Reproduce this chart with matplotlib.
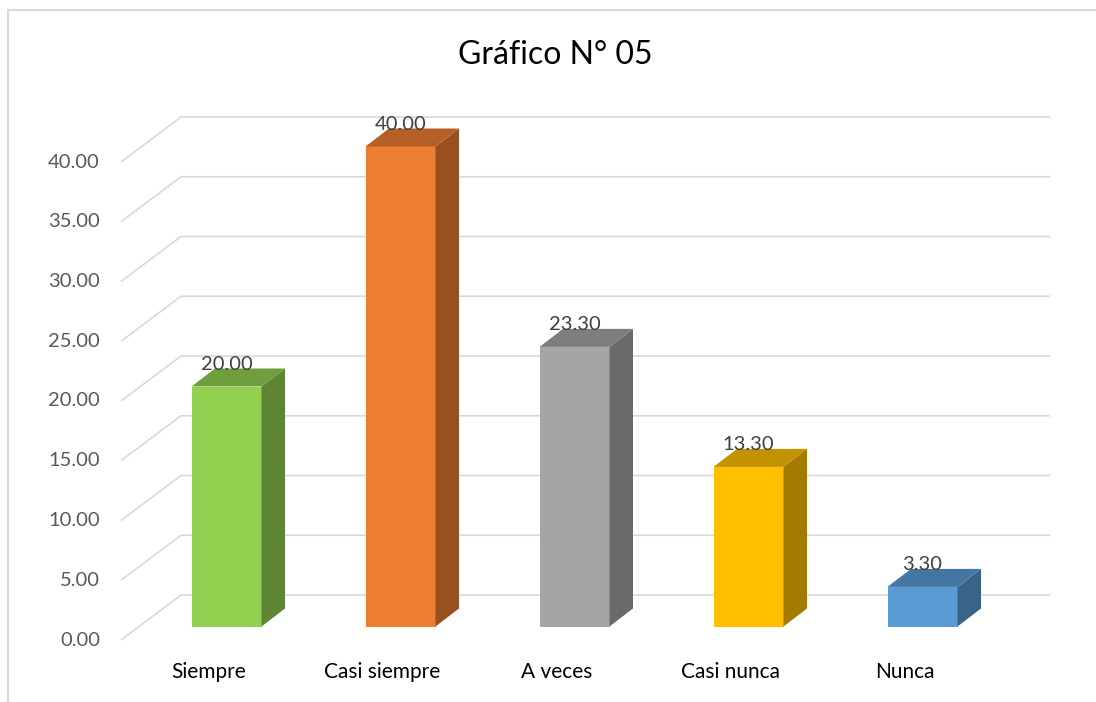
import matplotlib
matplotlib.use("Agg")
import matplotlib.pyplot as plt
from matplotlib.patches import Polygon
from matplotlib.lines import Line2D
from matplotlib.colors import to_rgb

# ---- data ----
categories = ["Siempre", "Casi siempre", "A veces", "Casi nunca", "Nunca"]
values = [20.00, 40.00, 23.30, 13.30, 3.30]
colors = ["#92D050", "#ED7D31", "#A5A5A5", "#FFC000", "#5B9BD5"]
yticks = [0, 5, 10, 15, 20, 25, 30, 35, 40]
title = "Gráfico N° 05"

W, H = 1096, 702
DPI = 100
plt.rcParams['font.family'] = ['Lato', 'DejaVu Sans']

fig = plt.figure(figsize=(W / DPI, H / DPI), dpi=DPI)
ax = fig.add_axes([0, 0, 1, 1])

# scale: category step and value scale in pixels
CAT_PX = 174.0
X0_PX = 226.5
VAL_PX = 12.0
Y0_PX = 626.5  # pixel row (from top) of value 0 at bar front
ax.set_xlim(-X0_PX / CAT_PX, (W - X0_PX) / CAT_PX)
ax.set_ylim(-(H - Y0_PX) / VAL_PX, Y0_PX / VAL_PX)
ax.axis('off')

def px_x(dpx):
    return dpx / CAT_PX

def px_y(dpx):
    return dpx / VAL_PX

# gridlines (3D wall look)
grid_col = "#D9D9D9"
tick_scale = 11.95 / 12.0
x_front = px_x(121 - X0_PX)
x_back = px_x(181 - X0_PX)
x_end = px_x(1050 - X0_PX)
for t in yticks:
    yf = t * tick_scale - px_y(13.5)
    yb = yf + px_y(45)
    ax.plot([x_front, x_back, x_end], [yf, yb, yb], color=grid_col, lw=1.2,
            solid_capstyle='butt', zorder=1)
    ax.text(px_x(100 - X0_PX), yf, f"{t:.2f}", ha='right', va='center',
            fontsize=14.5, color="#595959")

# bars
bw = px_x(70)
ddx = px_x(23.5)
ddy = px_y(18)

def shade(c, f):
    r, g, b = to_rgb(c)
    return (r * f, g * f, b * f)

for i, (cat, v, c) in enumerate(zip(categories, values, colors)):
    x0 = i - bw / 2
    x1 = i + bw / 2
    front = Polygon([(x0, 0), (x1, 0), (x1, v), (x0, v)], closed=True,
                    facecolor=c, edgecolor='none', zorder=3)
    side = Polygon([(x1, 0), (x1 + ddx, ddy), (x1 + ddx, v + ddy), (x1, v)],
                   closed=True, facecolor=shade(c, 0.64), edgecolor='none', zorder=3)
    top = Polygon([(x0, v), (x1, v), (x1 + ddx, v + ddy), (x0 + ddx, v + ddy)],
                  closed=True, facecolor=shade(c, 0.76), edgecolor='none', zorder=3)
    for p in (front, side, top):
        ax.add_patch(p)
    ax.text(i, v + px_y(22), f"{v:.2f}", ha='center', va='center',
            fontsize=14.5, color="#404040", zorder=4)
    ax.text(i - px_x(18), -px_y(46), cat, ha='center', va='center',
            fontsize=15, color="#000000")

# title
fig.text(555 / W, 1 - 55 / H, title, ha='center', va='center',
         fontsize=23, color="#000000")

# chart border (top and left visible)
fig.add_artist(Line2D([8 / W, 1.0], [1 - 10 / H, 1 - 10 / H],
                      transform=fig.transFigure, color=grid_col, lw=1.5))
fig.add_artist(Line2D([8 / W, 8 / W], [1 - 10 / H, 0],
                      transform=fig.transFigure, color=grid_col, lw=1.5))

fig.savefig("out.png", dpi=DPI)
